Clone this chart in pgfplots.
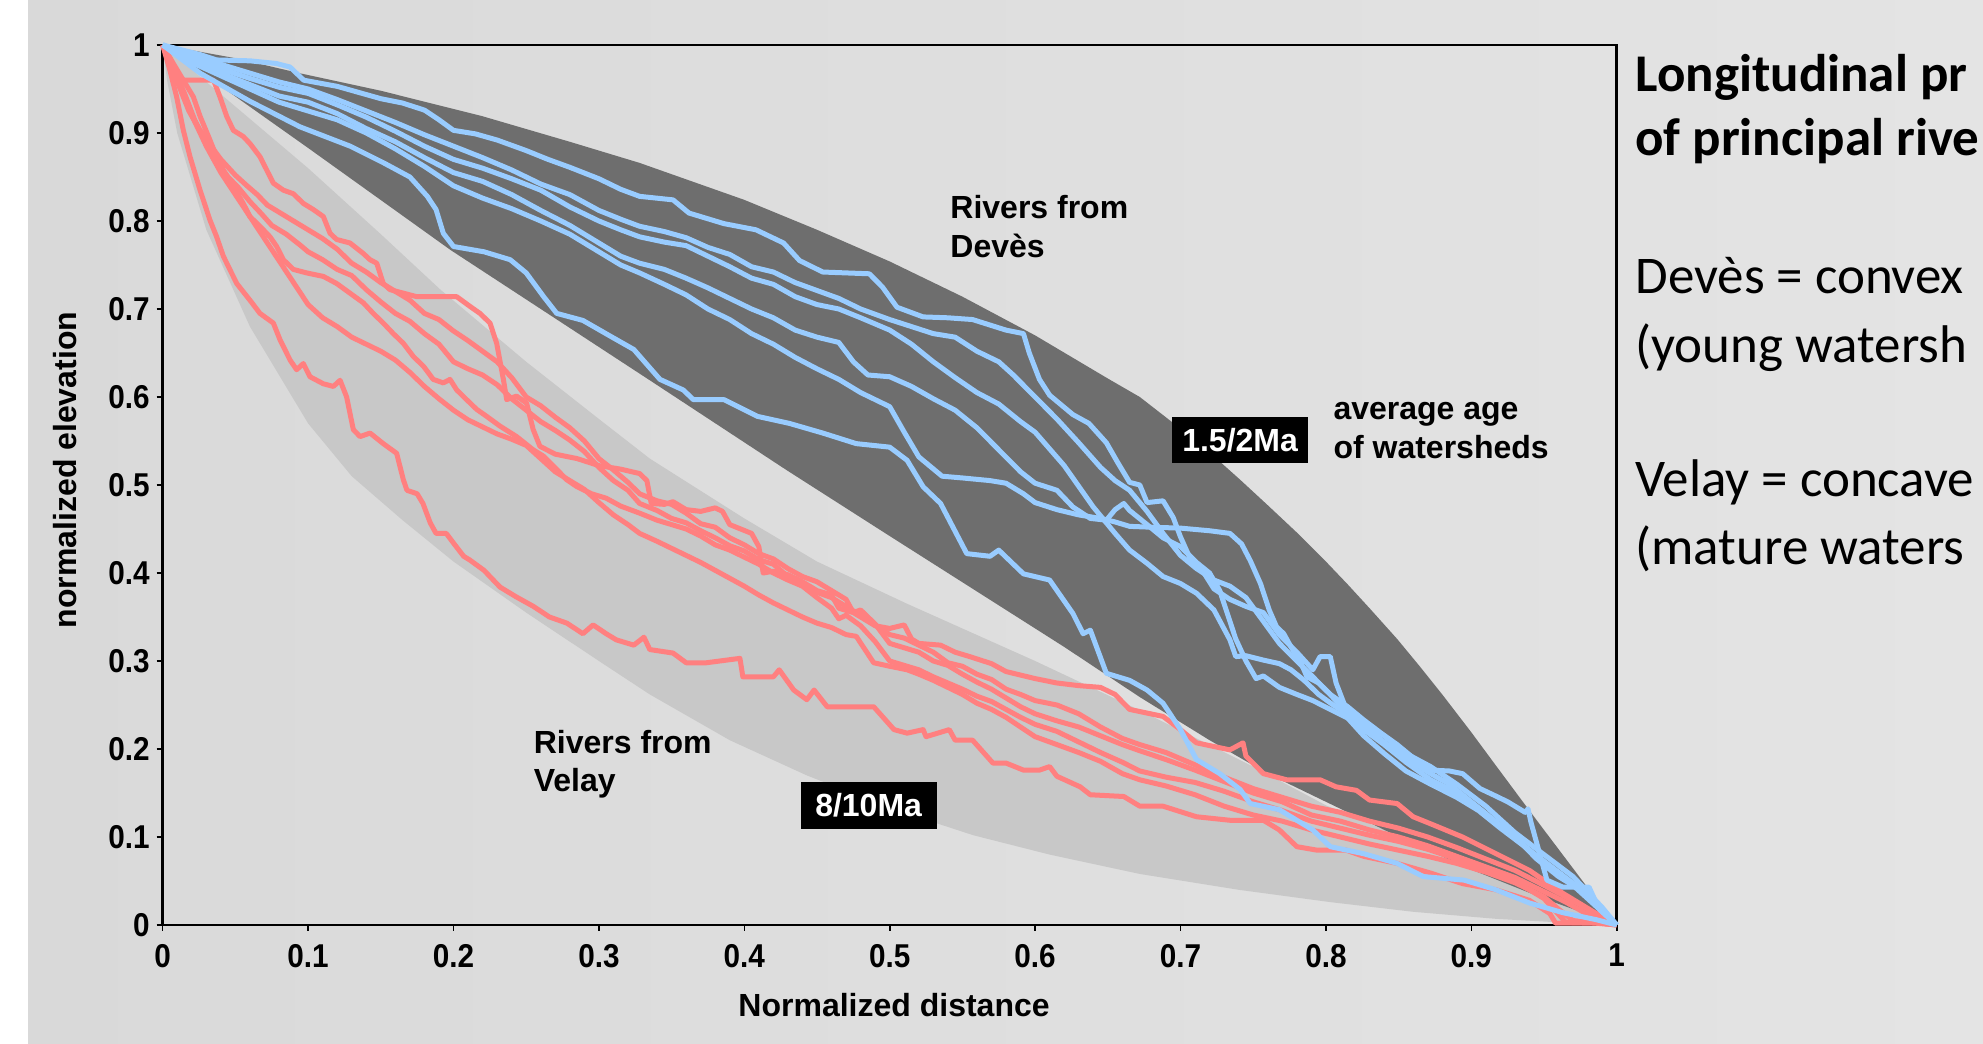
\documentclass[border=0pt]{standalone}
\usepackage{fontspec}
\setmainfont{Liberation Sans}
\newfontfamily\calibri{Carlito}
\usepackage{graphicx}
\usepackage{pgfplots}
\pgfplotsset{compat=1.18}

\definecolor{bgL}{HTML}{D9D9D9}
\definecolor{bgR}{HTML}{E4E4E4}
\definecolor{bandDark}{HTML}{6E6E6E}
\definecolor{bandLight}{HTML}{C8C8C8}
\definecolor{riverBlue}{HTML}{99CCFF}
\definecolor{riverRed}{HTML}{FF8080}

% narrow bold tick numbers
\newcommand{\tl}[1]{\scalebox{0.9}[1]{#1}}

\begin{document}
\begin{tikzpicture}
\useasboundingbox (0,0) rectangle (991.5pt,522pt);
\clip (0,0) rectangle (991.5pt,522pt);
\fill[white] (0,0) rectangle (991.5pt,522pt);
\shade[left color=bgL, right color=bgR] (14pt,0) rectangle (991.5pt,522pt);

\begin{axis}[
  at={(81.35pt,59.5pt)}, anchor=south west,
  scale only axis, width=727pt, height=440pt,
  xmin=0, xmax=1, ymin=0, ymax=1,
  clip=false,
  axis line style={line width=1.4pt, black},
  xtick={0,0.1,0.2,0.3,0.4,0.5,0.6,0.7,0.8,0.9,1},
  xticklabels={\tl{0},\tl{0.1},\tl{0.2},\tl{0.3},\tl{0.4},\tl{0.5},\tl{0.6},\tl{0.7},\tl{0.8},\tl{0.9},\tl{1}},
  ytick={0,0.1,0.2,0.3,0.4,0.5,0.6,0.7,0.8,0.9,1},
  yticklabels={\tl{0},\tl{0.1},\tl{0.2},\tl{0.3},\tl{0.4},\tl{0.5},\tl{0.6},\tl{0.7},\tl{0.8},\tl{0.9},\tl{1}},
  xtick pos=bottom, ytick pos=left,
  tick align=outside, major tick length=3pt,
  tick style={black, line width=0.8pt},
  tick label style={font=\bfseries\fontsize{16.5}{16.5}\selectfont},
  xticklabel style={yshift=-3pt},
  yticklabel style={xshift=0pt},
  xlabel={Normalized distance},
  ylabel={normalized elevation},
  label style={font=\bfseries\fontsize{16}{16}\selectfont},
  xlabel style={at={(axis description cs:0.503,-0.091)}, anchor=center},
  ylabel style={at={(axis description cs:-0.0672,0.517)}, anchor=center},
  every axis plot/.append style={line join=round},
]

% Velay envelope (8/10 Ma)
\addplot[draw=none, fill=bandLight] coordinates {
(0,1) (0.05,0.93) (0.1,0.86) (0.15,0.785) (0.191,0.722) (0.25,0.640) (0.3,0.575)
(0.335,0.530) (0.4,0.462) (0.45,0.413) (0.512,0.365) (0.6,0.300) (0.672,0.244)
(0.75,0.180) (0.8,0.136) (0.849,0.102) (0.9,0.068) (0.95,0.034) (1,0)
(0.96,0.003) (0.917,0.007) (0.86,0.015) (0.803,0.026) (0.74,0.040) (0.672,0.058)
(0.61,0.080) (0.5575,0.102) (0.5,0.133) (0.443,0.170) (0.39,0.210) (0.335,0.262)
(0.3,0.300) (0.25,0.355) (0.2,0.413) (0.165,0.460) (0.13,0.510) (0.1,0.570)
(0.06,0.680) (0.03,0.790) (0.01,0.900) (0.003,0.960) (0,1)} -- cycle;

% Deves envelope (1.5/2 Ma)
\addplot[draw=none, fill=bandDark] coordinates {
(0,1) (0.05,0.985) (0.094,0.968) (0.15,0.948) (0.22,0.919) (0.28,0.890) (0.328,0.866)
(0.4,0.824) (0.45,0.790) (0.5,0.754) (0.55,0.714) (0.6,0.670) (0.65,0.621)
(0.672,0.600) (0.70,0.564) (0.72,0.537) (0.741,0.506) (0.76,0.477) (0.78,0.446)
(0.80,0.413) (0.815,0.387) (0.83,0.360) (0.849,0.325) (0.865,0.293) (0.88,0.262)
(0.90,0.219) (0.917,0.181) (0.935,0.141) (0.95,0.108) (0.966,0.073) (0.982,0.038) (1,0)
(0.95,0.030) (0.9,0.063) (0.849,0.101) (0.8,0.140) (0.76,0.172) (0.72,0.210)
(0.672,0.259) (0.62,0.316) (0.56,0.379) (0.5,0.442) (0.429,0.517) (0.335,0.619)
(0.198,0.767) (0.1,0.883) (0,1)} -- cycle;

% Rivers from Velay
\addplot[riverRed, line width=2.5pt] coordinates {
(0,1) (0.005,0.971) (0.0096,0.941) (0.0142,0.903) (0.0188,0.873) (0.0257,0.835) (0.0325,0.801)
(0.0371,0.782) (0.0417,0.760) (0.0509,0.729) (0.060,0.710) (0.0669,0.695) (0.0761,0.684)
(0.0807,0.665) (0.0876,0.642) (0.0921,0.631) (0.0967,0.638) (0.1013,0.623) (0.1105,0.615)
(0.1174,0.612) (0.122,0.619) (0.1265,0.600) (0.1311,0.563) (0.1357,0.555) (0.1426,0.559)
(0.1517,0.547) (0.1609,0.536) (0.1655,0.506) (0.168,0.494) (0.175,0.490) (0.179,0.479)
(0.184,0.457) (0.188,0.445) (0.195,0.445) (0.200,0.434) (0.207,0.419) (0.211,0.415)
(0.221,0.403) (0.232,0.384) (0.243,0.373) (0.255,0.362) (0.266,0.350) (0.278,0.343)
(0.289,0.331) (0.296,0.341) (0.305,0.331) (0.312,0.324) (0.324,0.318) (0.331,0.327)
(0.335,0.313) (0.351,0.309) (0.360,0.298) (0.374,0.298) (0.397,0.303) (0.399,0.282)
(0.420,0.282) (0.424,0.290) (0.434,0.267) (0.443,0.256) (0.448,0.267) (0.457,0.248)
(0.489,0.248) (0.503,0.222) (0.512,0.218) (0.523,0.222) (0.525,0.214) (0.541,0.222)
(0.545,0.210) (0.557,0.210) (0.571,0.184) (0.580,0.184) (0.592,0.176) (0.603,0.176)
(0.610,0.180) (0.615,0.169) (0.631,0.157) (0.638,0.148) (0.661,0.146) (0.672,0.135)
(0.688,0.135) (0.711,0.123) (0.734,0.119) (0.757,0.119) (0.768,0.108) (0.780,0.089)
(0.794,0.085) (0.814,0.085) (0.826,0.078) (0.849,0.070) (0.872,0.059) (0.894,0.047)
(0.917,0.040) (0.940,0.028) (0.954,0.013) (0.958,0.002) (0.986,0.002) (1,0)};
\addplot[riverRed, line width=2.5pt] coordinates {
(0,1) (0.007,0.975) (0.014,0.960) (0.035,0.960) (0.0394,0.941) (0.044,0.919) (0.0486,0.903)
(0.0554,0.896) (0.060,0.888) (0.0669,0.873) (0.0715,0.858) (0.0761,0.843) (0.083,0.835)
(0.0898,0.831) (0.0967,0.820) (0.1036,0.813) (0.1105,0.805) (0.1151,0.786) (0.1196,0.779)
(0.1288,0.775) (0.138,0.763) (0.1426,0.756) (0.1472,0.752) (0.1517,0.729) (0.1563,0.722)
(0.1747,0.714) (0.193,0.714) (0.2022,0.714) (0.2113,0.703) (0.2182,0.695) (0.2251,0.684)
(0.2297,0.661) (0.2343,0.620) (0.2366,0.597) (0.2434,0.601) (0.2503,0.593) (0.2548,0.563)
(0.2594,0.544) (0.27,0.535) (0.285,0.530) (0.30,0.522) (0.315,0.518) (0.328,0.513)
(0.333,0.505) (0.336,0.479) (0.345,0.478) (0.351,0.481) (0.36,0.472) (0.37,0.470)
(0.38,0.474) (0.385,0.470) (0.39,0.455) (0.405,0.445) (0.41,0.430) (0.413,0.400)
(0.42,0.402) (0.43,0.398) (0.44,0.390) (0.45,0.380) (0.46,0.375) (0.465,0.360)
(0.475,0.355) (0.48,0.350) (0.49,0.340) (0.50,0.337) (0.51,0.341) (0.515,0.325)
(0.52,0.320) (0.535,0.318) (0.545,0.310) (0.555,0.305) (0.57,0.297) (0.58,0.288)
(0.60,0.280) (0.615,0.275) (0.63,0.272) (0.645,0.270) (0.655,0.262) (0.665,0.245)
(0.688,0.237) (0.70,0.222) (0.711,0.207) (0.734,0.199) (0.743,0.207) (0.745,0.192)
(0.757,0.172) (0.773,0.165) (0.796,0.165) (0.807,0.157) (0.821,0.153) (0.830,0.142)
(0.849,0.138) (0.860,0.123) (0.872,0.115) (0.894,0.100) (0.917,0.081) (0.940,0.062)
(0.963,0.036) (0.986,0.013) (1,0)};
\addplot[riverRed, line width=2.5pt] coordinates {
(0,1) (0.0073,0.979) (0.0142,0.960) (0.0211,0.941) (0.0257,0.919) (0.0325,0.892) (0.0371,0.873)
(0.0417,0.858) (0.0486,0.839) (0.0554,0.820) (0.060,0.805) (0.0669,0.794) (0.0738,0.782)
(0.0784,0.771) (0.083,0.756) (0.0898,0.745) (0.099,0.741) (0.1105,0.737) (0.1196,0.729)
(0.1288,0.718) (0.138,0.707) (0.1448,0.695) (0.1517,0.684) (0.1586,0.672) (0.1655,0.661)
(0.1724,0.646) (0.1793,0.635) (0.1861,0.620) (0.193,0.616) (0.1976,0.620) (0.2022,0.608)
(0.209,0.597) (0.2159,0.586) (0.2228,0.578) (0.2319,0.567) (0.2434,0.555) (0.2548,0.540)
(0.2617,0.533) (0.2709,0.518) (0.2778,0.506) (0.285,0.498) (0.295,0.490) (0.305,0.485)
(0.315,0.476) (0.328,0.468) (0.34,0.460) (0.35,0.455) (0.36,0.450) (0.37,0.442)
(0.38,0.432) (0.39,0.426) (0.40,0.418) (0.41,0.410) (0.42,0.400) (0.43,0.392)
(0.44,0.385) (0.45,0.372) (0.46,0.360) (0.465,0.348) (0.47,0.352) (0.48,0.340)
(0.49,0.322) (0.50,0.300) (0.51,0.295) (0.52,0.290) (0.53,0.282) (0.54,0.275)
(0.55,0.268) (0.56,0.260) (0.57,0.254) (0.58,0.245) (0.59,0.236) (0.60,0.228)
(0.615,0.220) (0.63,0.208) (0.645,0.196) (0.66,0.185) (0.672,0.175) (0.69,0.168)
(0.71,0.162) (0.73,0.152) (0.75,0.140) (0.77,0.130) (0.79,0.118) (0.81,0.110)
(0.83,0.102) (0.85,0.095) (0.87,0.086) (0.89,0.075) (0.91,0.062) (0.93,0.050)
(0.95,0.030) (0.96,0.012) (0.965,0.003) (0.99,0.002) (1,0)};
\addplot[riverRed, line width=2.5pt] coordinates {
(0,1) (0.008,0.972) (0.015,0.945) (0.022,0.915) (0.03,0.888) (0.038,0.865) (0.045,0.850)
(0.052,0.838) (0.06,0.822) (0.068,0.808) (0.075,0.795) (0.085,0.785) (0.095,0.772)
(0.10,0.765) (0.11,0.756) (0.12,0.745) (0.13,0.738) (0.14,0.722) (0.15,0.708)
(0.16,0.695) (0.17,0.686) (0.18,0.672) (0.19,0.660) (0.20,0.640) (0.21,0.632)
(0.22,0.625) (0.23,0.614) (0.24,0.598) (0.25,0.585) (0.26,0.572) (0.27,0.562)
(0.28,0.551) (0.29,0.538) (0.30,0.520) (0.31,0.505) (0.32,0.494) (0.328,0.479)
(0.34,0.471) (0.35,0.462) (0.36,0.457) (0.37,0.448) (0.38,0.440) (0.39,0.431)
(0.40,0.425) (0.41,0.415) (0.42,0.410) (0.43,0.396) (0.44,0.388) (0.45,0.378)
(0.46,0.372) (0.47,0.362) (0.48,0.352) (0.49,0.341) (0.50,0.330) (0.51,0.326)
(0.52,0.318) (0.53,0.310) (0.54,0.298) (0.55,0.294) (0.56,0.285) (0.57,0.279)
(0.58,0.268) (0.59,0.262) (0.60,0.255) (0.615,0.250) (0.63,0.240) (0.645,0.225)
(0.66,0.212) (0.672,0.205) (0.69,0.196) (0.71,0.182) (0.73,0.168) (0.75,0.155)
(0.77,0.145) (0.79,0.135) (0.81,0.128) (0.83,0.118) (0.85,0.110) (0.87,0.100)
(0.89,0.088) (0.91,0.075) (0.93,0.062) (0.95,0.045) (0.965,0.032) (0.98,0.018) (1,0)};
\addplot[riverRed, line width=2.5pt] coordinates {
(0,1) (0.006,0.975) (0.012,0.950) (0.018,0.925) (0.025,0.905) (0.032,0.888) (0.04,0.870)
(0.05,0.852) (0.058,0.840) (0.065,0.830) (0.072,0.818) (0.08,0.810) (0.09,0.800)
(0.10,0.790) (0.11,0.780) (0.12,0.768) (0.13,0.752) (0.14,0.742) (0.15,0.730)
(0.16,0.720) (0.17,0.710) (0.18,0.695) (0.19,0.688) (0.20,0.675) (0.21,0.664)
(0.22,0.652) (0.23,0.640) (0.24,0.622) (0.25,0.600) (0.26,0.590) (0.27,0.577)
(0.28,0.565) (0.29,0.550) (0.30,0.530) (0.31,0.517) (0.32,0.503) (0.328,0.490)
(0.34,0.482) (0.35,0.478) (0.36,0.468) (0.37,0.456) (0.38,0.452) (0.39,0.440)
(0.40,0.432) (0.41,0.422) (0.42,0.416) (0.43,0.405) (0.44,0.396) (0.45,0.390)
(0.46,0.380) (0.47,0.370) (0.475,0.355) (0.48,0.358) (0.49,0.342) (0.50,0.320)
(0.51,0.315) (0.52,0.310) (0.53,0.300) (0.54,0.295) (0.55,0.285) (0.56,0.276)
(0.57,0.268) (0.58,0.258) (0.59,0.248) (0.60,0.240) (0.615,0.232) (0.63,0.225)
(0.645,0.215) (0.66,0.205) (0.672,0.198) (0.69,0.188) (0.71,0.176) (0.73,0.163)
(0.75,0.150) (0.77,0.140) (0.79,0.125) (0.81,0.118) (0.83,0.108) (0.85,0.100)
(0.87,0.090) (0.89,0.078) (0.91,0.066) (0.93,0.054) (0.95,0.038) (0.965,0.026) (0.98,0.012) (1,0)};
\addplot[riverRed, line width=2.5pt] coordinates {
(0,1) (0.01,0.960) (0.02,0.920) (0.03,0.885) (0.04,0.855) (0.05,0.830) (0.06,0.805)
(0.07,0.780) (0.08,0.755) (0.09,0.730) (0.10,0.705) (0.11,0.690) (0.12,0.680)
(0.13,0.668) (0.14,0.660) (0.15,0.652) (0.16,0.642) (0.17,0.628) (0.18,0.612)
(0.19,0.598) (0.20,0.585) (0.21,0.574) (0.22,0.566) (0.23,0.558) (0.24,0.552)
(0.25,0.545) (0.26,0.530) (0.27,0.515) (0.28,0.505) (0.29,0.495) (0.30,0.480)
(0.31,0.466) (0.32,0.455) (0.328,0.445) (0.34,0.436) (0.35,0.428) (0.36,0.420)
(0.37,0.412) (0.38,0.403) (0.39,0.394) (0.40,0.385) (0.41,0.375) (0.42,0.366)
(0.43,0.358) (0.44,0.350) (0.45,0.343) (0.46,0.338) (0.47,0.330) (0.477,0.328)
(0.489,0.298) (0.50,0.294) (0.512,0.290) (0.52,0.285) (0.53,0.278) (0.54,0.270)
(0.55,0.262) (0.56,0.252) (0.57,0.245) (0.58,0.236) (0.59,0.225) (0.60,0.214)
(0.615,0.205) (0.63,0.196) (0.645,0.186) (0.66,0.172) (0.672,0.165) (0.69,0.158)
(0.71,0.148) (0.73,0.135) (0.75,0.125) (0.77,0.118) (0.79,0.108) (0.81,0.100)
(0.83,0.092) (0.85,0.085) (0.87,0.078) (0.89,0.070) (0.91,0.060) (0.93,0.048)
(0.95,0.032) (0.96,0.018) (0.97,0.005) (0.985,0.003) (1,0)};

% Rivers from Deves
\addplot[riverBlue, line width=2.5pt] coordinates {
(0,1) (0.026,0.989) (0.037,0.983) (0.06,0.982) (0.078,0.979) (0.0875,0.975) (0.097,0.960)
(0.12,0.953) (0.15,0.939) (0.165,0.934) (0.18,0.926) (0.19,0.915) (0.2,0.903)
(0.215,0.899) (0.23,0.892) (0.25,0.880) (0.265,0.870) (0.28,0.861) (0.3,0.848)
(0.315,0.836) (0.328,0.828) (0.351,0.824) (0.362,0.809) (0.386,0.797) (0.408,0.790)
(0.427,0.775) (0.438,0.755) (0.454,0.742) (0.47,0.741) (0.486,0.740) (0.495,0.725)
(0.505,0.702) (0.523,0.691) (0.54,0.690) (0.557,0.688) (0.58,0.676) (0.592,0.672)
(0.596,0.650) (0.603,0.620) (0.61,0.602) (0.626,0.580) (0.637,0.570) (0.649,0.548)
(0.657,0.525) (0.665,0.503) (0.672,0.500) (0.677,0.480) (0.688,0.482) (0.695,0.463)
(0.7,0.441) (0.707,0.415) (0.715,0.403) (0.723,0.382) (0.734,0.370) (0.745,0.362)
(0.757,0.355) (0.768,0.330) (0.78,0.310) (0.791,0.290) (0.796,0.305) (0.803,0.305)
(0.807,0.275) (0.814,0.245) (0.826,0.228) (0.84,0.215) (0.855,0.195) (0.872,0.180)
(0.89,0.160) (0.91,0.135) (0.93,0.105) (0.95,0.080) (0.97,0.055) (0.99,0.020) (1,0)};
\addplot[riverBlue, line width=2.5pt] coordinates {
(0,1) (0.02,0.988) (0.04,0.978) (0.06,0.968) (0.08,0.958) (0.10,0.950) (0.12,0.938)
(0.14,0.925) (0.16,0.912) (0.18,0.898) (0.20,0.885) (0.22,0.872) (0.24,0.858)
(0.26,0.842) (0.28,0.830) (0.30,0.812) (0.315,0.802) (0.328,0.794) (0.345,0.788)
(0.36,0.781) (0.375,0.770) (0.39,0.762) (0.405,0.748) (0.42,0.742) (0.435,0.730)
(0.45,0.721) (0.465,0.712) (0.48,0.700) (0.50,0.688) (0.515,0.680) (0.53,0.672)
(0.545,0.668) (0.56,0.652) (0.575,0.640) (0.585,0.625) (0.60,0.600) (0.615,0.575)
(0.63,0.548) (0.645,0.520) (0.655,0.505) (0.665,0.494) (0.677,0.470) (0.688,0.445)
(0.70,0.420) (0.711,0.405) (0.723,0.392) (0.734,0.385) (0.745,0.372) (0.757,0.345)
(0.768,0.320) (0.78,0.300) (0.791,0.282) (0.803,0.262) (0.815,0.240) (0.826,0.222)
(0.84,0.205) (0.855,0.185) (0.872,0.165) (0.89,0.150) (0.91,0.125) (0.93,0.100)
(0.95,0.070) (0.97,0.045) (0.99,0.015) (1,0)};
\addplot[riverBlue, line width=2.5pt] coordinates {
(0,1) (0.02,0.985) (0.04,0.973) (0.06,0.962) (0.08,0.952) (0.10,0.945) (0.12,0.932)
(0.14,0.918) (0.16,0.902) (0.18,0.885) (0.20,0.870) (0.22,0.860) (0.24,0.848)
(0.26,0.835) (0.28,0.816) (0.30,0.800) (0.315,0.790) (0.328,0.782) (0.345,0.776)
(0.36,0.772) (0.375,0.760) (0.39,0.748) (0.405,0.735) (0.42,0.728) (0.435,0.714)
(0.45,0.705) (0.465,0.700) (0.48,0.690) (0.50,0.676) (0.515,0.660) (0.53,0.640)
(0.545,0.622) (0.56,0.605) (0.575,0.592) (0.59,0.572) (0.60,0.560) (0.62,0.522)
(0.64,0.475) (0.655,0.445) (0.665,0.426) (0.677,0.411) (0.688,0.396) (0.70,0.388)
(0.711,0.377) (0.723,0.358) (0.734,0.324) (0.738,0.305) (0.745,0.306) (0.757,0.301)
(0.768,0.297) (0.776,0.290) (0.785,0.278) (0.795,0.262) (0.805,0.250) (0.815,0.240)
(0.826,0.225) (0.84,0.208) (0.855,0.190) (0.872,0.172) (0.885,0.160) (0.90,0.140)
(0.915,0.120) (0.93,0.100) (0.945,0.075) (0.96,0.055) (0.975,0.040) (0.99,0.015) (1,0)};
\addplot[riverBlue, line width=2.5pt] coordinates {
(0,1) (0.02,0.982) (0.04,0.968) (0.06,0.955) (0.08,0.942) (0.10,0.935) (0.12,0.922)
(0.14,0.905) (0.16,0.890) (0.18,0.872) (0.20,0.855) (0.22,0.845) (0.24,0.830)
(0.26,0.812) (0.28,0.795) (0.30,0.775) (0.315,0.760) (0.328,0.752) (0.345,0.745)
(0.36,0.735) (0.375,0.724) (0.39,0.712) (0.405,0.700) (0.42,0.690) (0.435,0.676)
(0.45,0.668) (0.465,0.662) (0.475,0.640) (0.485,0.625) (0.50,0.623) (0.515,0.612)
(0.53,0.598) (0.545,0.585) (0.56,0.565) (0.575,0.540) (0.59,0.515) (0.60,0.502)
(0.615,0.494) (0.626,0.475) (0.638,0.462) (0.649,0.460) (0.655,0.472) (0.661,0.479)
(0.665,0.471) (0.677,0.455) (0.688,0.440) (0.70,0.430) (0.711,0.412) (0.72,0.400)
(0.727,0.380) (0.734,0.345) (0.738,0.325) (0.745,0.300) (0.752,0.280) (0.757,0.283)
(0.768,0.270) (0.78,0.262) (0.791,0.255) (0.803,0.245) (0.815,0.235) (0.826,0.215)
(0.84,0.195) (0.855,0.175) (0.872,0.160) (0.89,0.145) (0.905,0.130) (0.92,0.110)
(0.94,0.085) (0.96,0.060) (0.98,0.035) (1,0)};
\addplot[riverBlue, line width=2.5pt] coordinates {
(0,1) (0.02,0.980) (0.04,0.965) (0.06,0.950) (0.08,0.935) (0.10,0.925) (0.12,0.915)
(0.14,0.900) (0.16,0.882) (0.18,0.862) (0.20,0.840) (0.22,0.826) (0.24,0.814)
(0.26,0.800) (0.28,0.785) (0.30,0.765) (0.315,0.750) (0.328,0.741) (0.345,0.728)
(0.36,0.716) (0.375,0.700) (0.39,0.688) (0.405,0.672) (0.42,0.660) (0.435,0.645)
(0.45,0.632) (0.465,0.620) (0.48,0.605) (0.50,0.589) (0.51,0.560) (0.52,0.532)
(0.536,0.510) (0.55,0.508) (0.569,0.505) (0.58,0.502) (0.592,0.490) (0.60,0.480)
(0.615,0.472) (0.63,0.466) (0.645,0.462) (0.655,0.458) (0.665,0.453) (0.68,0.452)
(0.70,0.451) (0.72,0.448) (0.734,0.445) (0.742,0.433) (0.748,0.414) (0.755,0.388)
(0.761,0.358) (0.766,0.339) (0.771,0.331) (0.776,0.316) (0.783,0.297) (0.787,0.282)
(0.795,0.275) (0.803,0.262) (0.815,0.248) (0.826,0.233) (0.838,0.218) (0.849,0.205)
(0.86,0.190) (0.872,0.176) (0.885,0.175) (0.894,0.172) (0.906,0.155) (0.915,0.148)
(0.925,0.140) (0.937,0.128) (0.939,0.132) (0.941,0.117) (0.947,0.081) (0.952,0.051)
(0.963,0.043) (0.981,0.043) (0.986,0.025) (1,0)};
\addplot[riverBlue, line width=2.5pt] coordinates {
(0,1) (0.0257,0.968) (0.06,0.936) (0.0944,0.907) (0.129,0.885) (0.152,0.866) (0.17,0.850)
(0.182,0.828) (0.188,0.813) (0.193,0.786) (0.2,0.771) (0.221,0.765) (0.239,0.756)
(0.25,0.741) (0.262,0.714) (0.271,0.695) (0.289,0.687) (0.308,0.669) (0.324,0.654)
(0.342,0.620) (0.358,0.608) (0.365,0.597) (0.386,0.597) (0.409,0.578) (0.431,0.570)
(0.454,0.559) (0.477,0.547) (0.5,0.543) (0.512,0.528) (0.523,0.498) (0.535,0.479)
(0.553,0.422) (0.569,0.419) (0.575,0.426) (0.592,0.399) (0.61,0.392) (0.626,0.354)
(0.633,0.331) (0.638,0.335) (0.649,0.286) (0.665,0.278) (0.677,0.267) (0.688,0.252)
(0.7,0.222) (0.711,0.188) (0.727,0.172) (0.741,0.154) (0.748,0.138) (0.768,0.131)
(0.791,0.108) (0.803,0.089) (0.826,0.081) (0.849,0.070) (0.867,0.055) (0.895,0.051)
(0.917,0.040) (0.94,0.025) (0.963,0.014) (0.986,0.006) (1,0)};

% annotations
\tikzset{annot/.style={anchor=base west, inner sep=0pt, font=\bfseries\fontsize{16}{16}\selectfont}}
\node[annot] at (axis cs:0.5415,0.803) {Rivers from};
\node[annot] at (axis cs:0.5415,0.759) {Devès};
\node[fill=black, text=white, minimum width=68pt, minimum height=23.3pt, inner sep=0pt,
      font=\bfseries\fontsize{16}{16}\selectfont] at (axis cs:0.741,0.551) {1.5/2Ma};
\node[annot] at (axis cs:0.805,0.574) {average age};
\node[annot] at (axis cs:0.805,0.530) {of watersheds};
\node[annot] at (axis cs:0.255,0.195) {Rivers from};
\node[annot] at (axis cs:0.255,0.1515) {Velay};
\node[fill=black, text=white, minimum width=68pt, minimum height=23.3pt, inner sep=0pt,
      font=\bfseries\fontsize{16}{16}\selectfont] at (axis cs:0.4855,0.136) {8/10Ma};
\end{axis}

% slide text on the right, as far as the slide crop shows it
\tikzset{slide/.style={anchor=base west, inner sep=0pt, font=\calibri\fontsize{26.5}{26.5}\selectfont}}
\node[slide, font=\calibri\bfseries\fontsize{26.5}{26.5}\selectfont] at (817.5pt,476pt) {Longitudinal pr};
\node[slide, font=\calibri\bfseries\fontsize{26.5}{26.5}\selectfont] at (817.5pt,444.2pt) {of principal rive};
\node[slide] at (817.5pt,375.3pt) {Devès = convex};
\node[slide] at (817.5pt,340.5pt) {(young watersh};
\node[slide] at (817.5pt,273.5pt) {Velay = concave};
\node[slide] at (817.5pt,239.5pt) {(mature waters};
\end{tikzpicture}
\end{document}
